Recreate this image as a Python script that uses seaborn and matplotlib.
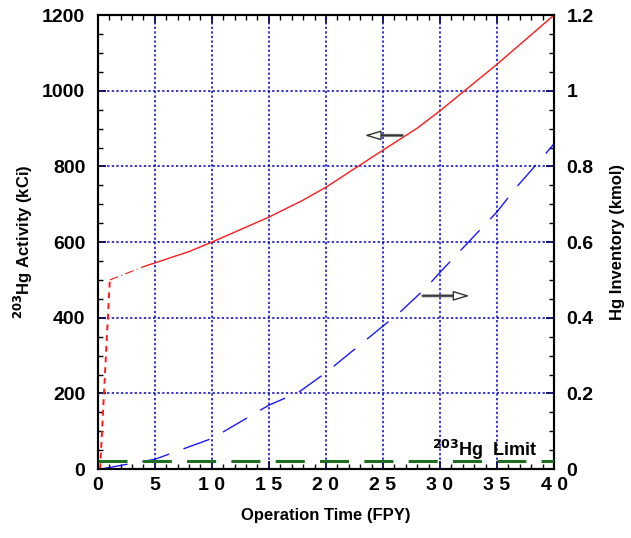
import numpy as np
import pandas as pd
import matplotlib
matplotlib.use("Agg")
import matplotlib.pyplot as plt
from matplotlib.ticker import MultipleLocator, FixedLocator, FixedFormatter
import seaborn as sns

# 203Hg activity (kCi) versus operation time (FPY)
rise_fpy = [0.2, 1.05]
rise_kci = [0.0, 500.0]
ramp_fpy = [1.05, 4.0]
ramp_kci = [500.0, 535.0]
act_fpy = [4.0, 5.0, 8.0, 10.0, 15.0, 18.0, 20.0, 25.0, 28.0, 30.0, 35.0, 40.0]
act_kci = [535.0, 545.0, 575.0, 600.0, 666.0, 711.0, 745.0, 843.0, 901.0, 947.0, 1070.0, 1200.0]

# Hg inventory (kmol) versus operation time (FPY)
inv_fpy = [0.2, 5.0, 10.0, 15.0, 17.6, 20.0, 25.0, 26.5, 28.8, 30.0, 33.5, 35.0, 36.7, 38.8, 40.0]
inv_kmol = [0.0, 0.026, 0.081, 0.169, 0.203, 0.255, 0.378, 0.415, 0.48, 0.52, 0.632, 0.68, 0.745, 0.817, 0.86]

# Activity limit
limit_kci = 22.0

x_ticks = [0, 5, 10, 15, 20, 25, 30, 35, 40]
x_tick_labels = ["0", "5", "1 0", "1 5", "2 0", "2 5", "3 0", "3 5", "4 0"]
left_ticks = [0, 200, 400, 600, 800, 1000, 1200]
right_ticks = [0, 0.2, 0.4, 0.6, 0.8, 1.0, 1.2]
right_tick_labels = ["0", "0.2", "0.4", "0.6", "0.8", "1", "1.2"]

sns.set_style("white")
plt.rcParams["font.family"] = ["Liberation Sans", "DejaVu Sans"]
plt.rcParams["font.weight"] = "bold"
plt.rcParams["text.color"] = "black"
plt.rcParams["axes.labelcolor"] = "black"
plt.rcParams["xtick.color"] = "black"
plt.rcParams["ytick.color"] = "black"

fig = plt.figure(figsize=(6.31, 5.38), dpi=100)
ax = fig.add_axes([0.155, 0.128, 0.723, 0.844])
ax2 = ax.twinx()

red = "#ff1a1a"
blue = "#1a1aff"
green = "#1f6e1f"

sns.lineplot(x=rise_fpy, y=rise_kci, ax=ax, color=red, lw=1.4,
             linestyle=(0, (3, 2.5)), estimator=None, sort=False)
sns.lineplot(x=ramp_fpy, y=ramp_kci, ax=ax, color=red, lw=0.8,
             linestyle=(0, (8, 3, 1, 3)), estimator=None, sort=False)
sns.lineplot(x=act_fpy, y=act_kci, ax=ax, color=red, lw=1.0,
             estimator=None, sort=False)

ax.axhline(limit_kci, color=green, lw=2.2, linestyle=(0, (9.5, 5.0)), zorder=3)

sns.lineplot(x=inv_fpy, y=inv_kmol, ax=ax2, color=blue, lw=1.0,
             linestyle=(0, (20, 11)), estimator=None, sort=False)

ax.set_xlim(0, 40)
ax.set_ylim(0, 1200)
ax2.set_ylim(0, 1.2)

# grid on the major ticks
for xv in x_ticks[1:-1]:
    ax.axvline(xv, color="#0000cc", lw=1.1, linestyle=(0, (1.5, 1.5)), zorder=1)
for yv in left_ticks[1:-1]:
    ax.axhline(yv, color="#0000cc", lw=1.1, linestyle=(0, (1.5, 1.5)), zorder=1)

ax.xaxis.set_major_locator(FixedLocator(x_ticks))
ax.xaxis.set_major_formatter(FixedFormatter(x_tick_labels))
ax.xaxis.set_minor_locator(MultipleLocator(1))
ax.yaxis.set_major_locator(FixedLocator(left_ticks))
ax.yaxis.set_minor_locator(MultipleLocator(50))
ax2.yaxis.set_major_locator(FixedLocator(right_ticks))
ax2.yaxis.set_major_formatter(FixedFormatter(right_tick_labels))
ax2.yaxis.set_minor_locator(MultipleLocator(0.05))

ax.tick_params(axis="x", which="both", direction="in", top=True, bottom=True,
               labelsize=14, pad=6)
ax.tick_params(axis="y", which="both", direction="in", left=True, right=False,
               labelsize=14, pad=9)
ax2.tick_params(axis="y", which="both", direction="in", right=True,
                labelsize=14, pad=9)
for a in (ax, ax2):
    a.tick_params(which="major", length=6, width=1.2, color="black",
                  labelcolor="black")
    a.tick_params(which="minor", length=3.5, width=1.0, color="black")
    for sp in a.spines.values():
        sp.set_color("black")
        sp.set_linewidth(1.5)
        sp.set_visible(True)
for lab in ax.get_xticklabels() + ax.get_yticklabels() + ax2.get_yticklabels():
    lab.set_fontweight("bold")

ax.set_xlabel("Operation Time (FPY)", fontsize=12, fontweight="bold",
              labelpad=10, color="black")
ax.set_ylabel("$\\mathbf{^{203}}$Hg Activity (kCi)", fontsize=12,
              fontweight="bold", labelpad=5, color="black")
ax2.set_ylabel("Hg Inventory (kmol)", fontsize=12, fontweight="bold",
               labelpad=12, color="black")

# direction arrows pointing at each curve's axis: grey shaft, open head
for tip, tail, yv in [(23.4, 26.7, 882), (32.6, 28.5, 458)]:
    ax.annotate("", xy=(tip, yv), xytext=(tail, yv),
                arrowprops=dict(arrowstyle="-", lw=2.2, color="#777777",
                                shrinkA=0, shrinkB=9), zorder=5)
    ax.annotate("", xy=(tip, yv), xytext=(tail, yv),
                arrowprops=dict(arrowstyle="-|>,head_length=1.0,head_width=0.3",
                                lw=1.0, fc="white", ec="#333333",
                                shrinkA=0, shrinkB=0), zorder=6)

ax.text(29.3, 34, "$\\mathbf{^{203}}$Hg  Limit", fontsize=13,
        fontweight="bold", ha="left", va="baseline", zorder=6, color="black")

ax.set_zorder(ax2.get_zorder() + 1)
ax.patch.set_visible(False)

fig.savefig("out.png", dpi=100, facecolor="white")
